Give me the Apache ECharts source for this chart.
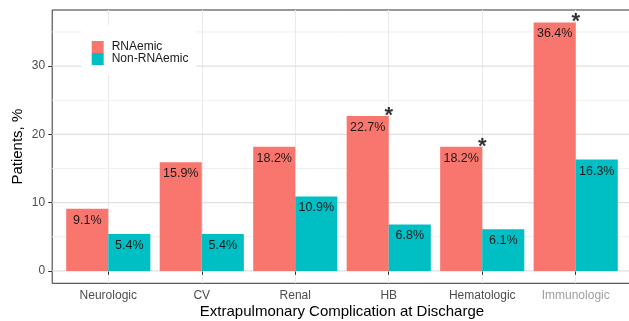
<!DOCTYPE html>
<html>
<head>
<meta charset="utf-8">
<script src="https://cdn.jsdelivr.net/npm/echarts@6/dist/echarts.min.js"></script>
<style>
html,body{margin:0;padding:0;background:#fff;}
#c{width:629px;height:321px;}
</style>
</head>
<body>
<div id="c"></div>
<script>
var categories = ['Neurologic', 'CV', 'Renal', 'HB', 'Hematologic', 'Immunologic'];
var rnaemic = [9.1, 15.9, 18.2, 22.7, 18.2, 36.4];
var nonRnaemic = [5.4, 5.4, 10.9, 6.8, 6.1, 16.3];
var significant = [false, false, false, true, true, true];
var yMajorTicks = [0, 10, 20, 30];
var yMinorTicks = [5, 15, 25, 35];

var FONT = '"Liberation Sans", Arial, Helvetica, sans-serif';
var chart = echarts.init(document.getElementById('c'), null, {renderer: 'canvas'});

var yMin = -1.82, yMax = 38.22;
var xMin = -0.6, xMax = 5.6;
var gLeft = 52.2, gTop = 10, gW = 579.6, gH = 273.3;
var unit = gW / 6.2;
function yPix(v) { return gTop + gH * (yMax - v) / (yMax - yMin); }

var starData = [];
for (var i = 0; i < categories.length; i++) {
  if (significant[i]) starData.push([i, rnaemic[i]]);
}

function hLines(vals) {
  var d = [];
  vals.forEach(function (v, k) {
    if (k > 0) d.push(['-', '-']);
    d.push([xMin, v]); d.push([xMax, v]);
  });
  return d;
}

var labelOpt = {
  show: true, position: 'insideTop', distance: 5,
  fontFamily: FONT, fontSize: 12.5, color: '#1a1a1a',
  formatter: function (p) { return p.value.toFixed(1) + '%'; }
};

var tMin = yMajorTicks[0], tMax = yMajorTicks[yMajorTicks.length - 1];
var majTop = yPix(tMax), majBot = yPix(tMin);

chart.setOption({
  animation: false,
  backgroundColor: '#fff',
  textStyle: {fontFamily: FONT},
  grid: [
    {left: gLeft, top: gTop, width: gW, height: gH, show: true, backgroundColor: 'rgba(0,0,0,0)', borderColor: '#333', borderWidth: 1, outerBoundsMode: 'none', containLabel: false},
    {left: gLeft + unit * 0.1, top: gTop, width: unit * 6, height: gH, show: false, outerBoundsMode: 'none', containLabel: false},
    {left: gLeft, top: majTop, width: gW, height: majBot - majTop, show: false, outerBoundsMode: 'none', containLabel: false}
  ],
  xAxis: [
    {gridIndex: 0, type: 'value', min: xMin, max: xMax,
      axisLine: {show: false}, axisTick: {show: false}, axisLabel: {show: false},
      splitLine: {show: true, showMinLine: false, showMaxLine: false, lineStyle: {color: '#ebebeb', width: 1.1}},
      name: 'Extrapulmonary Complication at Discharge', nameLocation: 'middle', nameGap: 21,
      nameTextStyle: {fontFamily: FONT, fontSize: 15, color: '#000'}},
    {gridIndex: 1, type: 'category', data: categories, position: 'bottom',
      axisLine: {show: false},
      axisTick: {show: true, alignWithLabel: true, length: 4, lineStyle: {color: '#333', width: 1}},
      axisLabel: {show: true, margin: 6, fontFamily: FONT, fontSize: 12,
        color: function (v, idx) { return idx === categories.length - 1 ? '#a0a0a0' : '#4d4d4d'; }},
      splitLine: {show: false}},
    {gridIndex: 2, type: 'value', min: 0, max: 1, show: false}
  ],
  yAxis: [
    {gridIndex: 0, type: 'value', min: yMin, max: yMax,
      axisLine: {show: false}, axisTick: {show: false}, axisLabel: {show: false}, splitLine: {show: false},
      name: 'Patients, %', nameLocation: 'middle', nameGap: 27,
      nameTextStyle: {fontFamily: FONT, fontSize: 15, color: '#000'}},
    {gridIndex: 1, type: 'value', min: yMin, max: yMax, show: false},
    {gridIndex: 2, type: 'value', min: tMin, max: tMax, interval: yMajorTicks[1] - yMajorTicks[0],
      axisLine: {show: false},
      axisTick: {show: true, length: 4, lineStyle: {color: '#333', width: 1}},
      axisLabel: {show: true, margin: 7, fontFamily: FONT, fontSize: 12, color: '#4d4d4d', showMinLabel: true, showMaxLabel: true},
      splitLine: {show: false}}
  ],
  legend: {
    data: ['RNAemic', 'Non-RNAemic'],
    orient: 'vertical', left: 81.7, top: 25,
    padding: [16, 8, 10, 10],
    backgroundColor: '#fff',
    icon: 'rect', itemWidth: 12, itemHeight: 12, itemGap: 0,
    textStyle: {fontFamily: FONT, fontSize: 12, color: '#1a1a1a', lineHeight: 12, padding: [0, 0, 0, 3]},
    z: 10
  },
  series: [
    {name: 'gridMinor', type: 'line', xAxisIndex: 0, yAxisIndex: 0, data: hLines(yMinorTicks),
      symbol: 'none', silent: true, connectNulls: false, z: 1,
      lineStyle: {color: '#efefef', width: 1}},
    {name: 'gridMajor', type: 'line', xAxisIndex: 0, yAxisIndex: 0, data: hLines(yMajorTicks),
      symbol: 'none', silent: true, connectNulls: false, z: 1,
      lineStyle: {color: '#e0e0e0', width: 1.1}},
    {name: 'RNAemic', type: 'bar', xAxisIndex: 1, yAxisIndex: 1, data: rnaemic,
      barWidth: unit * 0.45, barGap: '0%', itemStyle: {color: '#F8766D'}, label: labelOpt, z: 3},
    {name: 'Non-RNAemic', type: 'bar', xAxisIndex: 1, yAxisIndex: 1, data: nonRnaemic,
      barWidth: unit * 0.45, barGap: '0%', itemStyle: {color: '#00BFC4'}, label: labelOpt, z: 3},
    {name: 'sig', type: 'scatter', xAxisIndex: 1, yAxisIndex: 1, data: starData,
      symbolSize: 1, itemStyle: {color: 'rgba(0,0,0,0)'}, z: 4,
      label: {show: true, position: 'inside', formatter: '*', fontFamily: FONT, fontSize: 22, fontWeight: 'bold', color: '#000', offset: [0, 0]}}
  ]
});
</script>
</body>
</html>
